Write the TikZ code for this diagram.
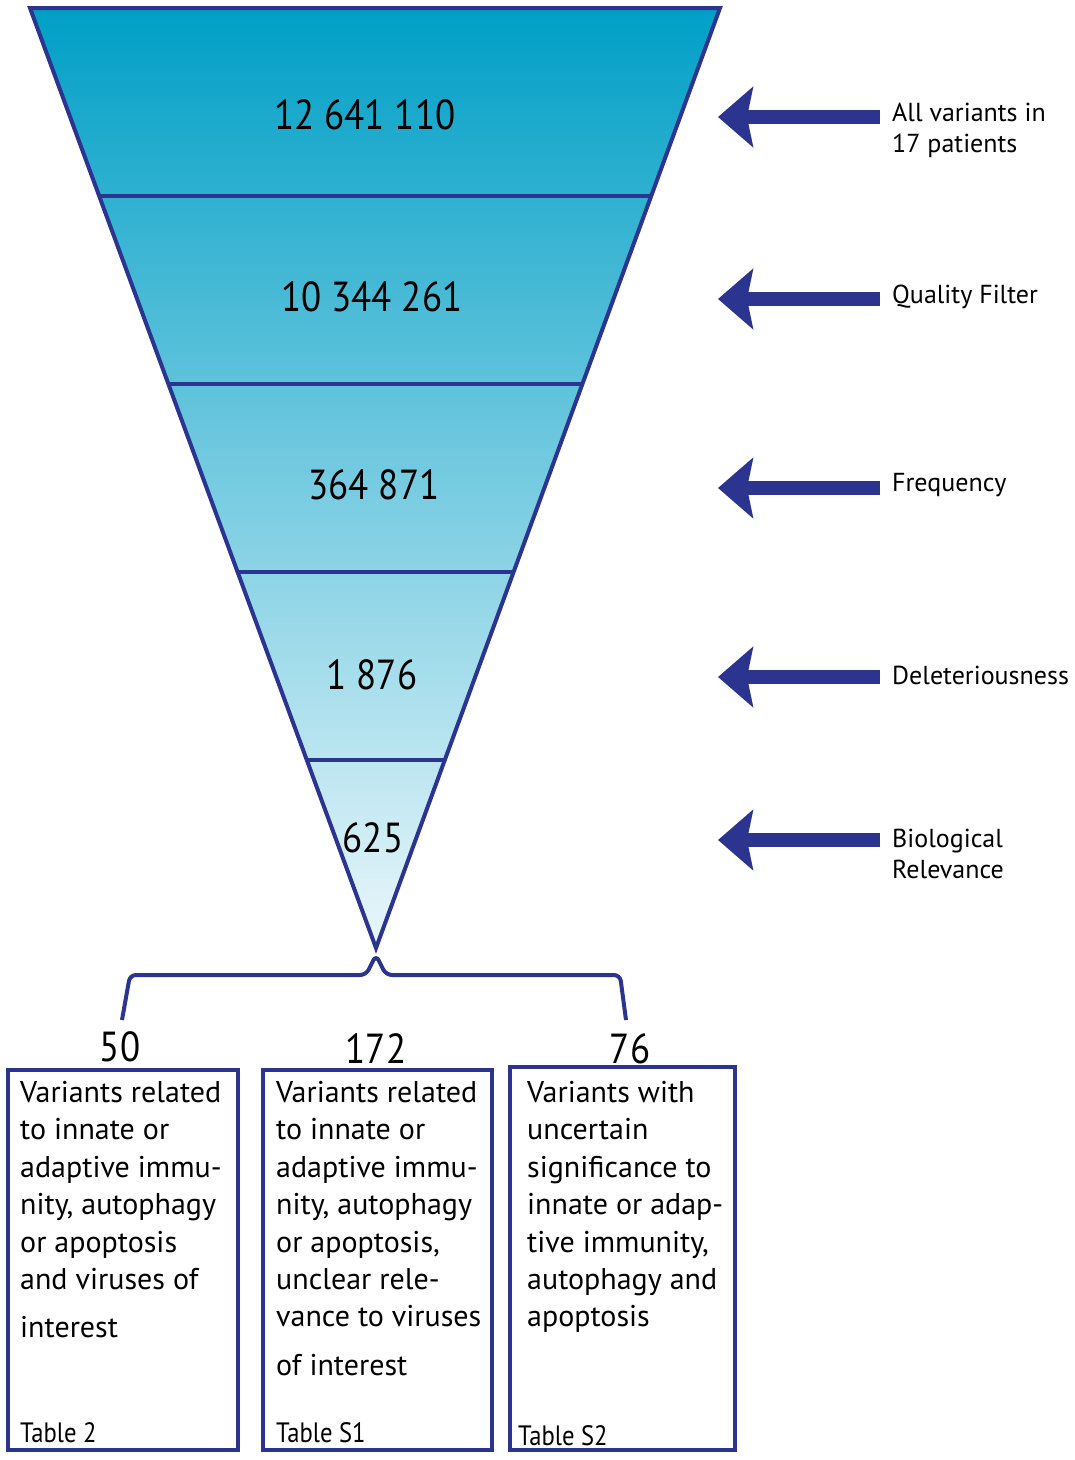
\documentclass[tikz,border=0pt]{standalone}
\usepackage{fontspec}
\setmainfont{PT Sans}
\newfontfamily\condfont[FakeStretch=0.88]{PT Sans}
\usetikzlibrary{arrows.meta,calc}

\definecolor{linecol}{HTML}{2B3590}
\definecolor{funneltop}{HTML}{009FC6}
\definecolor{funnelbottom}{HTML}{EAF7FB}

\tikzset{
  outline/.style={draw=linecol, line width=4pt},
  layernum/.style={inner sep=0pt, font=\condfont\fontsize{42}{42}\selectfont},
  filterlabel/.style={anchor=west, align=left, inner sep=0pt, font=\fontsize{26}{31}\selectfont},
  filterarrow/.style={draw=linecol, line width=14pt, -{Stealth[length=35pt, width=60pt, inset=6pt]}},
  groupbox/.style={outline, anchor=north west, inner sep=0pt, outer sep=0pt},
  boxtext/.style={anchor=north west, align=left, inner sep=0pt, font=\fontsize{30}{37.4}\selectfont},
  tablelabel/.style={anchor=base west, inner sep=0pt, font=\condfont\fontsize{28}{28}\selectfont}
}

\begin{document}
\begin{tikzpicture}[x=1pt, y=-1pt]
\useasboundingbox (0,0) rectangle (1075,1460);

\coordinate (tl) at (30,8);
\coordinate (tr) at (720,8);
\coordinate (apex) at (376,948);
\shade[top color=funneltop, bottom color=funnelbottom] (tl) -- (tr) -- (apex) -- cycle;
\draw[outline] (tl) -- (tr) -- (apex) -- cycle;
\foreach \f in {0.2,0.4,0.6,0.8}
  \draw[outline] ($(tl)!\f!(apex)$) -- ($(tr)!\f!(apex)$);

\node[layernum] (l1) at (365,115) {12 641 110};
\node[layernum] (l2) at (372,297) {10 344 261};
\node[layernum] (l3) at (374,485) {364 871};
\node[layernum] (l4) at (372,675) {1 876};
\node[layernum] (l5) at (373,838) {625};

\node[filterlabel] (f1) at (892,130) {All variants in\\17 patients};
\node[filterlabel] (f2) at (892,297) {Quality Filter};
\node[filterlabel] (f3) at (892,485) {Frequency};
\node[filterlabel] (f4) at (892,675) {Deleteriousness};
\node[filterlabel] (f5) at (892,854) {Biological\\Relevance};

\foreach \i/\y in {1/117,2/299,3/488,4/677,5/840} {
  \coordinate (tail\i) at (880,\y);
  \coordinate (tip\i) at (718,\y);
  \draw[filterarrow] (tail\i) -- (tip\i);
}

\draw[outline, rounded corners=6pt] (122,1020) -- (130,975) -- (366,975) -- (376,955) -- (386,975) -- (620,975) -- (626,1020);

\node[layernum] (n1) at (120,1047) {50};
\node[layernum] (n2) at (376,1049) {172};
\node[layernum] (n3) at (630,1049) {76};

\node[groupbox, minimum width=230pt, minimum height=380pt] (box1) at (8,1070) {};
\node[groupbox, minimum width=229pt, minimum height=380pt] (box2) at (263,1070) {};
\node[groupbox, minimum width=225pt, minimum height=383pt] (box3) at (510,1067) {};

\node[boxtext] (t1) at ([xshift=12pt, yshift=-11pt]box1.north west) {Variants related\\to innate or\\adaptive immu-\\nity, autophagy\\or apoptosis\\and viruses of\\[11pt]interest};
\node[boxtext] (t2) at ([xshift=13pt, yshift=-11pt]box2.north west) {Variants related\\to innate or\\adaptive immu-\\nity, autophagy\\or apoptosis,\\unclear rele-\\vance to viruses\\[11pt]of interest};
\node[boxtext] (t3) at ([xshift=17pt, yshift=-14pt]box3.north west) {Variants with\\uncertain\\significance to\\innate or adap-\\tive immunity,\\autophagy and\\apoptosis};

\node[tablelabel] (s1) at ([xshift=12pt, yshift=8pt]box1.south west) {Table 2};
\node[tablelabel] (s2) at ([xshift=13pt, yshift=8pt]box2.south west) {Table S1};
\node[tablelabel] (s3) at ([xshift=8pt, yshift=5pt]box3.south west) {Table S2};
\end{tikzpicture}
\end{document}
